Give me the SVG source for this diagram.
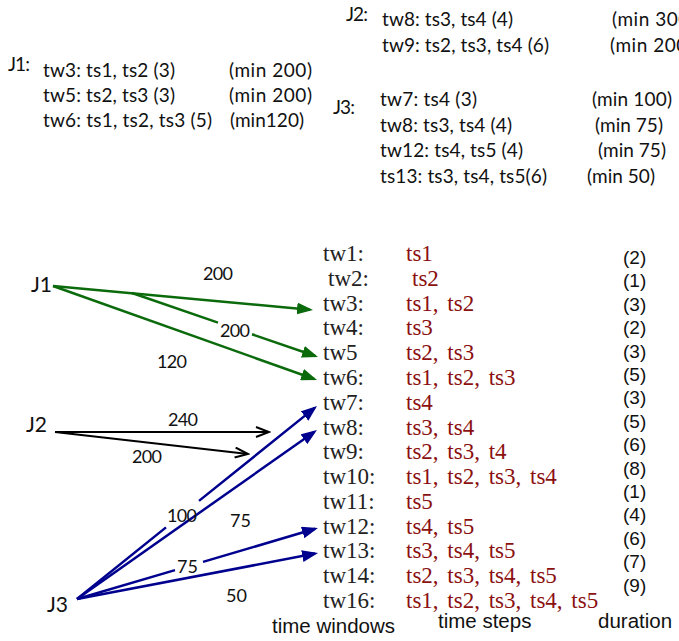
<svg xmlns="http://www.w3.org/2000/svg" width="679" height="641" viewBox="0 0 679 641">
<style>
.top{font-family:Lato,"Liberation Sans",sans-serif;font-size:19px;fill:#111}
.job{font-family:Lato,"Liberation Sans",sans-serif;font-size:21px;fill:#111}
.el{font-family:Lato,"Liberation Sans",sans-serif;font-size:18px;fill:#111}
.tw{font-family:"Liberation Serif",serif;font-size:23px;fill:#222}
.ts{font-family:"Liberation Serif",serif;font-size:23px;fill:#8b1010;word-spacing:3px}
.dur{font-family:"Liberation Sans",Arial,sans-serif;font-size:19px;fill:#111}
.hdr{font-family:"Liberation Sans",Arial,sans-serif;font-size:20.5px;fill:#111}
.g{stroke:#0b6a0b;stroke-width:2.5;fill:none}
.k{stroke:#000;stroke-width:2;fill:none}
.b{stroke:#00008e;stroke-width:2.5;fill:none}
</style>
<defs>
<marker id="ag" viewBox="0 0 16 12" refX="13" refY="6" markerWidth="16" markerHeight="12" markerUnits="userSpaceOnUse" orient="auto"><path d="M0,0 L16,6 L0,12 z" fill="#0b6a0b"/></marker>
<marker id="ab" viewBox="0 0 16 12" refX="13" refY="6" markerWidth="16" markerHeight="12" markerUnits="userSpaceOnUse" orient="auto"><path d="M0,0 L16,6 L0,12 z" fill="#00008e"/></marker>
<marker id="ak" viewBox="-1 -1 16 12" refX="13" refY="5" markerWidth="16" markerHeight="12" markerUnits="userSpaceOnUse" orient="auto"><path d="M0,0 L13,5 L0,10" fill="none" stroke="#000" stroke-width="2"/></marker>
</defs>

<g id="j1-constraints" class="top">
<text x="8" y="71" textLength="22">J1:</text>
<text x="43" y="77" textLength="132">tw3: ts1, ts2 (3)</text>
<text x="229" y="77" textLength="83">(min 200)</text>
<text x="43" y="102" textLength="132">tw5: ts2, ts3 (3)</text>
<text x="229" y="102" textLength="83">(min 200)</text>
<text x="43" y="127" textLength="169">tw6: ts1, ts2, ts3 (5)</text>
<text x="230" y="127" textLength="74">(min120)</text>
</g>
<g id="j2-constraints" class="top">
<text x="346" y="21" textLength="22">J2:</text>
<text x="382" y="26" textLength="131">tw8: ts3, ts4 (4)</text>
<text x="612" y="26" textLength="83">(min 300)</text>
<text x="382" y="52" textLength="167">tw9: ts2, ts3, ts4 (6)</text>
<text x="610" y="52" textLength="83">(min 200)</text>
</g>
<g id="j3-constraints" class="top">
<text x="333" y="114" textLength="22">J3:</text>
<text x="380" y="106" textLength="97">tw7: ts4 (3)</text>
<text x="592" y="106" textLength="80">(min 100)</text>
<text x="380" y="132" textLength="132">tw8: ts3, ts4 (4)</text>
<text x="595" y="132" textLength="68">(min 75)</text>
<text x="380" y="157" textLength="143">tw12: ts4, ts5 (4)</text>
<text x="598" y="157" textLength="68">(min 75)</text>
<text x="380" y="183" textLength="167">ts13: ts3, ts4, ts5(6)</text>
<text x="587" y="183" textLength="68">(min 50)</text>
</g>

<g id="connectors">
<path class="g" d="M53,286 L310,309.7" marker-end="url(#ag)"/>
<path class="g" d="M132,293 L218,322.6 M252,334.3 L315.2,356" marker-end="url(#ag)"/>
<path class="g" d="M53,286 L314.2,379" marker-end="url(#ag)"/>
<path class="k" d="M55,432 L269,432" marker-end="url(#ak)"/>
<path class="k" d="M55,432 L248,454" marker-end="url(#ak)"/>
<path class="b" d="M77,599 L166,527.4 M199,500.9 L314.7,407.9" marker-end="url(#ab)"/>
<path class="b" d="M77,599 L314.5,431.7" marker-end="url(#ab)"/>
<path class="b" d="M77,599 L175,570.1 M203,561.9 L315.1,528.8" marker-end="url(#ab)"/>
<path class="b" d="M77,599 L315.1,553.6" marker-end="url(#ab)"/>
</g>

<g id="edge-labels" class="el">
<text x="203" y="280" textLength="30">200</text>
<text x="220" y="337" textLength="30">200</text>
<text x="157" y="368" textLength="30">120</text>
<text x="168" y="426" textLength="30">240</text>
<text x="132" y="463" textLength="30">200</text>
<text x="167" y="522" textLength="30">100</text>
<text x="230" y="527" textLength="21">75</text>
<text x="177" y="573" textLength="21">75</text>
<text x="226" y="602" textLength="21">50</text>
</g>

<g id="J1"><text class="job" x="31" y="292">J1</text></g>
<g id="J2"><text class="job" x="26" y="432">J2</text></g>
<g id="J3"><text class="job" x="47" y="612">J3</text></g>

<g id="tw1"><text class="tw" x="323" y="261">tw1:</text><text class="ts" x="406" y="261">ts1</text><text class="dur" x="623" y="264">(2)</text></g>
<g id="tw2"><text class="tw" x="328" y="285.8">tw2:</text><text class="ts" x="412" y="285.8">ts2</text><text class="dur" x="623" y="287.4">(1)</text></g>
<g id="tw3"><text class="tw" x="323" y="310.6">tw3:</text><text class="ts" x="406" y="310.6">ts1, ts2</text><text class="dur" x="623" y="310.8">(3)</text></g>
<g id="tw4"><text class="tw" x="323" y="335.4">tw4:</text><text class="ts" x="406" y="335.4">ts3</text><text class="dur" x="623" y="334.2">(2)</text></g>
<g id="tw5"><text class="tw" x="323" y="360">tw5</text><text class="ts" x="406" y="360">ts2, ts3</text><text class="dur" x="623" y="357.6">(3)</text></g>
<g id="tw6"><text class="tw" x="323" y="385">tw6:</text><text class="ts" x="406" y="385">ts1, ts2, ts3</text><text class="dur" x="623" y="381">(5)</text></g>
<g id="tw7"><text class="tw" x="323" y="410">tw7:</text><text class="ts" x="406" y="410">ts4</text><text class="dur" x="623" y="404.4">(3)</text></g>
<g id="tw8"><text class="tw" x="323" y="434.6">tw8:</text><text class="ts" x="406" y="434.6">ts3, ts4</text><text class="dur" x="623" y="427.8">(5)</text></g>
<g id="tw9"><text class="tw" x="323" y="459">tw9:</text><text class="ts" x="406" y="459">ts2, ts3, t4</text><text class="dur" x="623" y="451.2">(6)</text></g>
<g id="tw10"><text class="tw" x="323" y="484">tw10:</text><text class="ts" x="406" y="484">ts1, ts2, ts3, ts4</text><text class="dur" x="623" y="474.6">(8)</text></g>
<g id="tw11"><text class="tw" x="323" y="509">tw11:</text><text class="ts" x="406" y="509">ts5</text><text class="dur" x="623" y="498">(1)</text></g>
<g id="tw12"><text class="tw" x="323" y="533.6">tw12:</text><text class="ts" x="406" y="533.6">ts4, ts5</text><text class="dur" x="623" y="521.4">(4)</text></g>
<g id="tw13"><text class="tw" x="323" y="558">tw13:</text><text class="ts" x="406" y="558">ts3, ts4, ts5</text><text class="dur" x="623" y="544.8">(6)</text></g>
<g id="tw14"><text class="tw" x="323" y="583">tw14:</text><text class="ts" x="406" y="583">ts2, ts3, ts4, ts5</text><text class="dur" x="623" y="568.2">(7)</text></g>
<g id="tw16"><text class="tw" x="323" y="608">tw16:</text><text class="ts" x="406" y="608">ts1, ts2, ts3, ts4, ts5</text><text class="dur" x="623" y="591.6">(9)</text></g>

<g id="headers" class="hdr">
<text x="272" y="633">time windows</text>
<text x="438" y="628">time steps</text>
<text x="598" y="628">duration</text>
</g>
</svg>
